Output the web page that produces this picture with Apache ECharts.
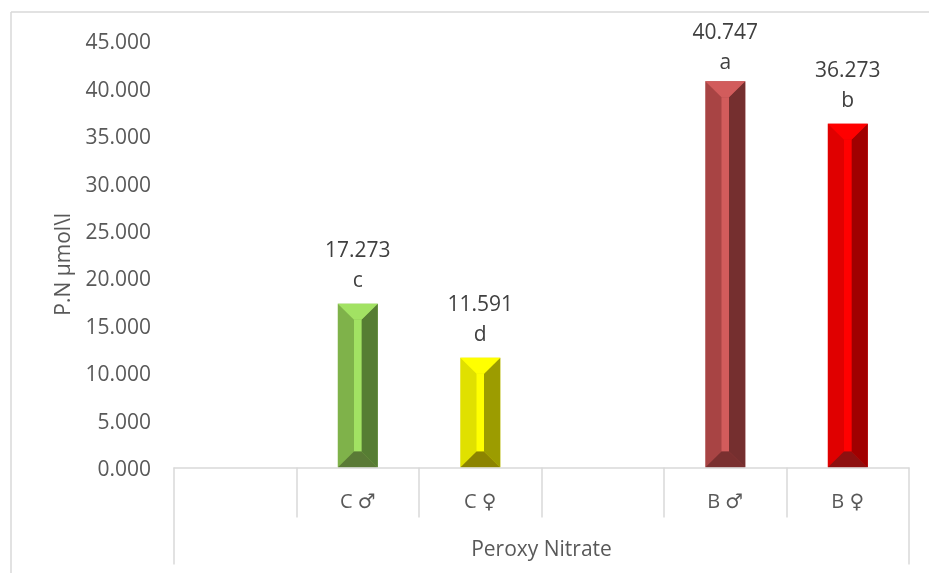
<!DOCTYPE html>
<html>
<head>
<meta charset="utf-8">
<title>Peroxy Nitrate</title>
<script src="https://cdn.jsdelivr.net/npm/echarts@6/dist/echarts.min.js"></script>
<style>
html, body { margin: 0; padding: 0; background: #fff; }
#chart { width: 929px; height: 573px; }
</style>
</head>
<body>
<div id="chart"></div>
<script>
const categories = ['', 'C ♂', 'C ♀', '', 'B ♂', 'B ♀'];
const groupLabels = ['Peroxy Nitrate'];
const values = [null, 17.273, 11.591, null, 40.747, 36.273];
const letters = ['', 'c', 'd', '', 'a', 'b'];

// left face, light (top + centre strip), right face, bottom face
const barColors = [
    null,
    ['#7FB24A', '#A2E263', '#567D33', '#5A7A36'],
    ['#E0E000', '#FFFF00', '#9C9C00', '#8C8400'],
    null,
    ['#A84444', '#D25C5C', '#752F2F', '#7A3030'],
    ['#E00000', '#FF0000', '#A00000', '#8E1010'],
];
// the tallest label sits closer to its bar in the original
const labelNudge = [0, 0, 0, 0, 5, 0];

const FONT = '"Open Sans", "DejaVu Sans", sans-serif';
const LINE = '#D9D9D9';
const BAR_WIDTH = 40;
const BEVEL = 16;
const STRIP = 7.5;

// bar with the bevel look, corners come from the axis scales
function renderBar(params, api) {
    const idx = api.value(0);
    const val = api.value(1);
    if (isNaN(val)) return;
    const top = api.coord([idx, val]);
    const base = api.coord([idx, 0]);
    const x0 = top[0] - BAR_WIDTH / 2;
    const x1 = top[0] + BAR_WIDTH / 2;
    const y0 = top[1];
    const y1 = base[1];
    const c = barColors[idx];
    const face = (points, fill) => ({
        type: 'polygon',
        shape: { points: points },
        style: { fill: fill },
    });
    const sx0 = top[0] - STRIP / 2;
    const sx1 = top[0] + STRIP / 2;
    return {
        type: 'group',
        children: [
            face([[x0, y0], [x1, y0], [x1, y1], [x0, y1]], c[0]),
            face([[x1, y0], [x1, y1], [sx1, y1 - BEVEL], [sx1, y0 + BEVEL]], c[2]),
            face([[x0, y0], [x1, y0], [sx1, y0 + BEVEL], [sx0, y0 + BEVEL]], c[1]),
            face([[sx0, y0 + BEVEL], [sx1, y0 + BEVEL], [sx1, y1 - BEVEL], [sx0, y1 - BEVEL]], c[1]),
            face([[x0, y1], [x1, y1], [sx1, y1 - BEVEL], [sx0, y1 - BEVEL]], c[3]),
            {
                type: 'text',
                style: {
                    text: val.toFixed(3) + '\n' + letters[idx],
                    x: top[0],
                    y: y0 - 8 + labelNudge[idx],
                    align: 'center',
                    verticalAlign: 'bottom',
                    font: '21px ' + FONT,
                    lineHeight: 30,
                    fill: '#404040',
                },
            },
        ],
    };
}

const chart = echarts.init(document.getElementById('chart'));
chart.setOption({
    animation: false,
    backgroundColor: '#fff',
    textStyle: { fontFamily: FONT },
    grid: { left: 174, right: 20, top: 41, bottom: 105.5 },
    graphic: [
        { type: 'line', shape: { x1: 11, y1: 12, x2: 929, y2: 12 }, style: { stroke: LINE, lineWidth: 1.5 } },
        { type: 'line', shape: { x1: 11, y1: 12, x2: 11, y2: 573 }, style: { stroke: LINE, lineWidth: 1.5 } },
    ],
    xAxis: [
        {
            type: 'category',
            data: categories,
            z: 5,
            axisLine: { lineStyle: { color: LINE, width: 1.5 } },
            axisTick: { show: true, length: 50, lineStyle: { color: LINE, width: 1.5 } },
            axisLabel: { color: '#595959', fontSize: 20, margin: 25, interval: 0 },
        },
        {
            type: 'category',
            position: 'bottom',
            data: groupLabels,
            z: 5,
            axisLine: { show: false },
            axisTick: { show: true, length: 97, lineStyle: { color: LINE, width: 1.5 } },
            axisLabel: { color: '#595959', fontSize: 21, margin: 72, interval: 0 },
        },
    ],
    yAxis: {
        type: 'value',
        min: 0,
        max: 45,
        interval: 5,
        name: 'P.N µmol\\l',
        nameLocation: 'middle',
        nameGap: 99,
        nameTextStyle: { color: '#595959', fontSize: 21, padding: [0, 20, 0, 0] },
        axisLine: { show: false },
        axisTick: { show: false },
        splitLine: { show: false },
        axisLabel: {
            margin: 23,
            formatter: (v) => '{tick|' + v.toFixed(3) + '}',
            rich: {
                tick: { color: '#595959', fontSize: 21, padding: [5, 0, 0, 0] },
            },
        },
    },
    series: [
        {
            type: 'custom',
            xAxisIndex: 0,
            yAxisIndex: 0,
            renderItem: renderBar,
            data: values.map((v, i) => [i, v === null ? '-' : v]),
        },
    ],
});
</script>
</body>
</html>
